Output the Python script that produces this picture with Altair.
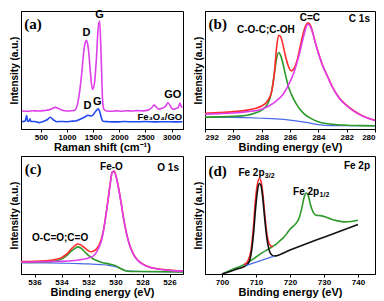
import altair as alt
import pandas as pd

# ---------------- Panel (a): Raman ----------------
a_go_x = [140, 250, 350, 450, 560, 650, 720, 770, 830, 900, 1000, 1100, 1162, 1221, 1282, 1329, 1350, 1372, 1393, 1414, 1450, 1486, 1522, 1564, 1595, 1625, 1654, 1680, 1703, 1760, 1850, 1950, 2050, 2150, 2250, 2350, 2450, 2550, 2620, 2665, 2710, 2755, 2820, 2880, 2936, 2980, 3026, 3087, 3130, 3160, 3194, 3210]
a_go_y = [15.3, 15.0, 15.5, 15.2, 15.6, 16.2, 17.4, 18.3, 17.6, 16.0, 15.2, 15.4, 16.5, 25.5, 47.0, 68.5, 73.5, 75.2, 72.5, 66.0, 47.0, 33.6, 37.6, 60.5, 84.7, 91.4, 60.5, 25.5, 17.0, 15.3, 15.0, 15.4, 15.1, 15.5, 15.2, 15.6, 15.4, 16.0, 18.0, 20.2, 18.6, 16.8, 17.6, 19.0, 22.3, 19.2, 16.8, 17.4, 18.0, 22.0, 18.6, 18.4]
a_fe_x = [140, 200, 228, 245, 270, 290, 310, 380, 470, 560, 620, 680, 740, 800, 900, 980, 1080, 1162, 1252, 1342, 1402, 1474, 1553, 1600, 1631, 1661, 1690, 1800, 1950, 2100, 2300, 2500, 2700, 2900, 3050, 3210]
a_fe_y = [6.2, 6.8, 11.3, 6.8, 6.5, 8.6, 6.4, 6.4, 5.4, 6.6, 7.8, 9.9, 7.8, 6.2, 6.4, 6.2, 6.6, 6.8, 8.3, 10.2, 11.6, 11.0, 15.3, 17.2, 14.0, 9.0, 6.6, 6.2, 6.0, 6.3, 6.1, 6.3, 6.0, 6.2, 6.0, 6.2]
a_ticks = [500, 1000, 1500, 2000, 2500, 3000]

# ---------------- Panel (b): C 1s ----------------
b_red_x = [292, 291, 290, 289, 288.5, 288, 287.6, 287.3, 287.1, 286.95, 286.8, 286.65, 286.5, 286.3, 286.1, 285.9, 285.7, 285.5, 285.3, 285.1, 284.9, 284.75, 284.6, 284.4, 284.2, 284.0, 283.7, 283.4, 283.0, 282.5, 282.0, 281.5, 281.0, 280.5, 280.0]
b_red_y = [13.3, 13.9, 14.7, 16.0, 17.3, 19.5, 23.5, 31.5, 47.5, 68.8, 79.5, 78.0, 71.5, 60.8, 52.8, 49.3, 51.5, 58.0, 68.8, 79.5, 87.5, 90.1, 88.8, 82.0, 72.8, 64.8, 54.0, 46.0, 35.5, 26.0, 20.0, 15.5, 12.0, 9.3, 7.5]
b_mag_x = [292, 291, 290, 289, 288, 287.5, 287.0, 286.5, 286.0, 285.7, 285.4, 285.1, 284.9, 284.75, 284.6, 284.4, 284.2, 284.0, 283.7, 283.4, 283.0, 282.5, 282.0, 281.5, 281.0, 280.5, 280.0]
b_mag_y = [12.5, 13.0, 13.6, 14.7, 16.8, 19.5, 23.5, 29.3, 40.0, 48.8, 60.8, 75.5, 84.8, 88.8, 87.5, 81.6, 72.5, 64.5, 53.7, 45.7, 35.2, 25.7, 19.7, 15.2, 11.7, 9.1, 7.2]
b_grn_x = [292, 290, 289, 288.5, 288, 287.6, 287.3, 287.1, 286.95, 286.8, 286.65, 286.5, 286.3, 286.1, 285.9, 285.6, 285.3, 285.0, 284.5, 284.0, 283.0, 282.0, 281.0, 280.0]
b_grn_y = [10.1, 10.7, 11.7, 13.3, 16.0, 20.8, 31.5, 47.5, 59.5, 64.8, 62.0, 55.5, 44.8, 35.5, 29.3, 22.1, 16.8, 12.8, 8.8, 6.1, 4.0, 3.2, 2.9, 2.7]
b_blu_x = [292, 290, 289, 288, 287, 286, 285, 284.5, 284, 283, 280]
b_blu_y = [9.9, 9.9, 9.6, 9.1, 8.5, 7.5, 5.9, 4.8, 3.7, 2.9, 2.7]
b_ticks = [292, 290, 288, 286, 284, 282, 280]

# ---------------- Panel (c): O 1s ----------------
c_red_x = [537, 536, 535, 534.5, 534, 533.6, 533.3, 533.0, 532.8, 532.6, 532.3, 532.0, 531.8, 531.5, 531.2, 531.0, 530.8, 530.6, 530.4, 530.25, 530.1, 529.95, 529.8, 529.6, 529.4, 529.2, 529.0, 528.7, 528.4, 528.0, 527.5, 527.0, 526.0, 525.0]
c_red_y = [10.5, 10.7, 11.3, 12.3, 13.9, 17.0, 20.9, 24.1, 25.4, 24.9, 22.3, 19.6, 18.8, 20.2, 24.9, 31.4, 43.2, 58.9, 75.9, 86.4, 87.2, 82.5, 74.6, 61.5, 47.1, 35.3, 26.2, 17.5, 12.3, 8.6, 6.0, 4.7, 3.4, 2.6]
c_mag_x = [537, 535, 534, 533, 532.5, 532.0, 531.6, 531.3, 531.0, 530.8, 530.6, 530.4, 530.25, 530.1, 529.95, 529.8, 529.6, 529.4, 529.2, 529.0, 528.7, 528.4, 528.0, 527.5, 527.0, 526.0, 525.0]
c_mag_y = [9.9, 10.5, 10.7, 11.5, 12.3, 13.6, 15.7, 20.9, 30.1, 42.7, 58.4, 75.4, 85.9, 86.9, 82.2, 74.3, 61.3, 46.9, 35.1, 26.0, 17.3, 12.0, 8.4, 5.8, 4.5, 3.1, 2.4]
c_grn_x = [537, 535, 534.5, 534, 533.6, 533.3, 533.0, 532.8, 532.6, 532.3, 532.0, 531.7, 531.3, 531.0, 530.5, 530.0, 529.6, 529.2, 528.5, 525]
c_grn_y = [9.7, 10.2, 11.0, 12.6, 15.7, 19.1, 21.7, 23.0, 22.3, 19.1, 15.7, 13.1, 11.0, 9.7, 8.6, 7.1, 4.5, 2.6, 2.1, 1.8]
c_blu_x = [537, 535, 533, 532, 531, 530.5, 530.0, 529.6, 529.2, 528, 525]
c_blu_y = [9.7, 9.4, 8.9, 8.6, 7.9, 7.3, 6.3, 4.5, 2.6, 2.1, 1.8]
c_ticks = [536, 534, 532, 530, 528, 526]

# ---------------- Panel (d): Fe 2p ----------------
d_grn_x = [700, 702, 704, 706, 708, 710, 712, 714, 715, 716, 717, 718, 719, 720, 721, 722, 722.8, 723.5, 724.2, 724.8, 725.4, 726, 726.8, 727.8, 729, 730.5, 732, 734, 736, 738, 740]
d_grn_y = [0.0, 2.6, 5.0, 7.3, 10.5, 14.4, 18.3, 21.7, 23.6, 25.4, 28.0, 30.6, 34.0, 38.0, 40.6, 43.7, 48.4, 56.3, 65.4, 68.6, 66.2, 58.9, 52.4, 49.7, 49.5, 48.4, 46.6, 45.0, 44.2, 44.5, 45.5]
d_red_x = [706.5, 707.5, 708.5, 709.2, 709.8, 710.4, 711.0, 711.5, 712.0, 712.6, 713.2, 713.8, 714.5, 715.0]
d_red_y = [7.9, 10.5, 19.6, 38.0, 61.5, 75.9, 80.9, 78.5, 68.1, 49.7, 34.0, 26.2, 23.6, 23.3]
d_blk_x = [700, 704, 707, 708, 708.7, 709.3, 709.9, 710.5, 711.0, 711.5, 712.0, 712.6, 713.2, 713.8, 714.5, 715.3, 720, 730, 740]
d_blk_y = [0.0, 3.9, 7.1, 10.5, 19.6, 35.3, 56.3, 72.0, 76.7, 74.6, 64.1, 45.8, 30.1, 20.9, 16.5, 15.2, 20.4, 31.2, 41.9]
d_blu_x = [707, 715.3]
d_blu_y = [7.1, 15.2]
d_ticks = [700, 710, 720, 730, 740]

MAG = "#DE3FEA"
BLUE_A = "#2248F0"
RED = "#FF2A2A"
GREEN = "#2E9A2A"
BLUE = "#4C6AE8"
BLACK = "#111111"
SANS = "Liberation Sans"
SERIF = "Liberation Serif"


def make_x(domain, reverse, ticks, title):
    return alt.X("x:Q", scale=alt.Scale(domain=domain, reverse=reverse, nice=False, zero=False),
                 axis=alt.Axis(values=ticks, title=title, grid=False, format="d"))


def make_y():
    return alt.Y("y:Q", scale=alt.Scale(domain=[0, 100], nice=False),
                 axis=alt.Axis(title="Intensity (a.u.)", labels=False, ticks=False, grid=False))


def line(xs, ys, color, X, width=1.6):
    df = pd.DataFrame({"x": xs, "y": ys})
    return alt.Chart(df).mark_line(color=color, strokeWidth=width, clip=True,
                                   interpolate="monotone").encode(x=X, y=make_y())


def text(rows, X, size=10, font=SANS, align="center", color="black", dy=0):
    df = pd.DataFrame(rows, columns=["x", "y", "t"])
    return alt.Chart(df).mark_text(font=font, fontSize=size, fontWeight="bold", align=align,
                                   baseline="middle", color=color, dy=dy).encode(
        x=X, y=make_y(), text="t:N")


W1, W2, H = 162, 170, 118

# (a)
Xa = make_x([120, 3220], False, a_ticks, "Raman shift (cm\u207b\u00b9)")
pa = alt.layer(
    line(a_fe_x, a_fe_y, BLUE_A, Xa),
    line(a_go_x, a_go_y, MAG, Xa),
    text([[1372, 81, "D"], [1625, 97, "G"], [1390, 19.5, "D"], [1582, 22.5, "G"], [3026, 28.5, "GO"]], Xa, size=11),
    text([[3205, 9.9, "Fe\u2083O\u2084/GO"]], Xa, size=9.5, align="right"),
    text([[349, 88.7, "(a)"]], Xa, size=15, font=SERIF),
).properties(width=W1, height=H)

# (b)
Xb = make_x([280, 292], True, b_ticks, "Binding energy (eV)")
pb = alt.layer(
    line(b_blu_x, b_blu_y, BLUE, Xb, 1.2),
    line(b_grn_x, b_grn_y, GREEN, Xb),
    line(b_red_x, b_red_y, RED, Xb),
    line(b_mag_x, b_mag_y, MAG, Xb),
    text([[287.7, 83.5, "C-O-C;C-OH"], [284.6, 94, "C=C"], [281.1, 93, "C 1s"]], Xb, size=10),
    text([[291.1, 89, "(b)"]], Xb, size=15, font=SERIF),
).properties(width=W2, height=H)

# (c)
Xc = make_x([525, 537], True, c_ticks, "Binding energy (eV)")
pc = alt.layer(
    line(c_blu_x, c_blu_y, BLUE, Xc, 1.2),
    line(c_grn_x, c_grn_y, GREEN, Xc),
    line(c_red_x, c_red_y, RED, Xc),
    line(c_mag_x, c_mag_y, MAG, Xc),
    text([[530.3, 90.3, "Fe-O"], [526.1, 89.8, "O 1s"], [534.1, 30.6, "O-C=O;C=O"]], Xc, size=10),
    text([[536.1, 89, "(c)"]], Xc, size=15, font=SERIF),
).properties(width=W1, height=H)

# (d)
Xd = make_x([695, 745], False, d_ticks, "Binding energy (eV)")
pd_ = alt.layer(
    line(d_grn_x, d_grn_y, GREEN, Xd),
    line(d_red_x, d_red_y, RED, Xd),
    line(d_blk_x, d_blk_y, BLACK, Xd),
    line(d_blu_x, d_blu_y, BLUE, Xd, 1.2),
    text([[712.5, 85.6, "Fe 2p"], [728.6, 69.9, "Fe 2p"]], Xd, size=10, align="right"),
    text([[712.6, 85.6, "3/2"], [728.7, 69.9, "1/2"]], Xd, size=7, align="left", dy=3),
    text([[739.7, 91.6, "Fe 2p"]], Xd, size=10),
    text([[698.7, 87.7, "(d)"]], Xd, size=15, font=SERIF),
).properties(width=W2, height=H)

chart = alt.vconcat(
    alt.hconcat(pa, pb, spacing=8),
    alt.hconcat(pc, pd_, spacing=8),
    spacing=2,
).properties(padding=0).configure_view(
    stroke="black", strokeWidth=1
).configure_axis(
    labelFont=SANS, labelFontSize=8, labelFontWeight="bold", labelColor="black",
    titleFont=SANS, titleFontSize=11, titleFontWeight="bold", titleColor="black",
    domainColor="black", tickColor="black", tickSize=3, labelPadding=1, titlePadding=0,
).configure_axisY(titleFontSize=10, titlePadding=2)

chart.save("out.html", embed_options={"renderer": "svg", "actions": False})
